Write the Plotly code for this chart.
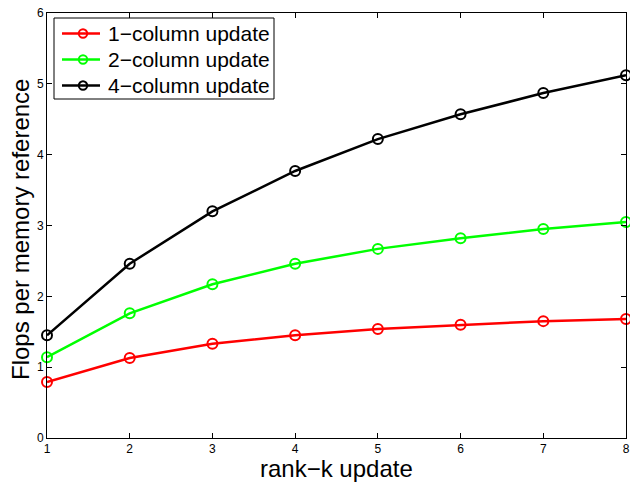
import plotly.graph_objects as go

k = [1, 2, 3, 4, 5, 6, 7, 8]
one_col = [0.79, 1.13, 1.33, 1.45, 1.54, 1.60, 1.65, 1.68]
two_col = [1.14, 1.76, 2.17, 2.46, 2.67, 2.82, 2.95, 3.05]
four_col = [1.45, 2.46, 3.20, 3.77, 4.22, 4.57, 4.87, 5.12]
names = ["1\u2212column update", "2\u2212column update", "4\u2212column update"]
colors = ["#ff0000", "#00ff00", "#000000"]
x_title = "rank\u2212k update"
y_title = "Flops per memory reference"

FONT = "Liberation Sans, Arial"
# plot area target in page px: x 47..626, y 13..438 (body margin removed via post_script)
PL, PR, PT, PB = 47, 626, 13, 438


def px(xp):
    return (xp - PL) / (PR - PL)


def py(yp):
    return (PB - yp) / (PB - PT)


fig = go.Figure()
for name, ys, c in zip(names, [one_col, two_col, four_col], colors):
    fig.add_trace(go.Scatter(
        x=k, y=ys, mode="lines+markers", name=name, showlegend=False,
        line=dict(color=c, width=2.5),
        marker=dict(symbol="circle-open", size=10, color=c, line=dict(width=2, color=c)),
        cliponaxis=False,
    ))

axis_common = dict(
    showline=True, linecolor="black", linewidth=1, mirror="ticks",
    ticks="inside", ticklen=5, tickcolor="black", showgrid=False, zeroline=False,
    automargin=False,
    tickfont=dict(family=FONT, size=12, color="black"),
)

shapes = [dict(type="rect", xref="paper", yref="paper", x0=px(54), x1=px(274), y0=py(99), y1=py(18),
               line=dict(color="black", width=1), fillcolor="white", layer="above")]
annotations = []
row_y = [33.5, 59.5, 85.5]
for name, c, ry in zip(names, colors, row_y):
    shapes.append(dict(type="line", xref="paper", yref="paper", x0=px(62), x1=px(100), y0=py(ry), y1=py(ry),
                       line=dict(color=c, width=2.5), layer="above"))
    shapes.append(dict(type="circle", xref="paper", yref="paper", x0=px(83 - 4.2), x1=px(83 + 4.2),
                       y0=py(ry + 4.2), y1=py(ry - 4.2), line=dict(color=c, width=2), fillcolor="rgba(0,0,0,0)",
                       layer="above"))
    annotations.append(dict(text=name, xref="paper", yref="paper", x=px(106), y=py(ry), xanchor="left",
                            yanchor="middle", showarrow=False, font=dict(family=FONT, size=21, color="black")))

annotations += [
    dict(text=x_title, xref="paper", yref="paper", x=0.5, y=0, yshift=-30, xanchor="center", yanchor="middle",
         showarrow=False, font=dict(family=FONT, size=24, color="black")),
    dict(text=y_title, xref="paper", yref="paper", x=0, y=0.5, xshift=-27, yshift=-4.5,
         xanchor="center", yanchor="middle", textangle=-90,
         showarrow=False, font=dict(family=FONT, size=24, color="black")),
]

fig.update_layout(
    width=630, height=485,
    margin=dict(l=PL, r=630 - PR, t=PT, b=485 - PB),
    paper_bgcolor="white", plot_bgcolor="white",
    xaxis=dict(range=[1, 8], tickvals=k, **axis_common),
    yaxis=dict(range=[0, 6], tickvals=[0, 1, 2, 3, 4, 5, 6], **axis_common),
    showlegend=False,
    shapes=shapes,
    annotations=annotations,
)
fig.write_html("out.html", config={"displayModeBar": False},
               post_script="document.body.style.margin='0';document.body.style.overflow='hidden';")
